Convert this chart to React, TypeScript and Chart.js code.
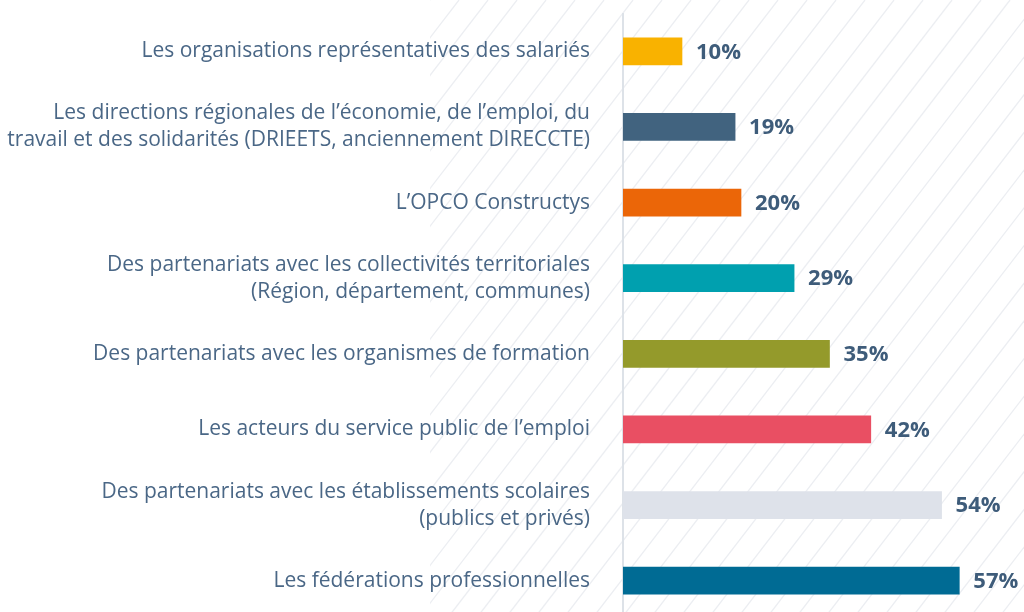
import React, { useEffect, useRef } from "react";
import { Chart, registerables } from "chart.js";

Chart.register(...registerables);

const categories: string[][] = [
  ["Les organisations représentatives des salariés"],
  ["Les directions régionales de l’économie, de l’emploi, du", "travail et des solidarités (DRIEETS, anciennement DIRECCTE)"],
  ["L’OPCO Constructys"],
  ["Des partenariats avec les collectivités territoriales", "(Région, département, communes)"],
  ["Des partenariats avec les organismes de formation"],
  ["Les acteurs du service public de l’emploi"],
  ["Des partenariats avec les établissements scolaires", "(publics et privés)"],
  ["Les fédérations professionnelles"],
];

const values: number[] = [10, 19, 20, 29, 35, 42, 54, 57];

const barColors: string[] = [
  "#f9b200",
  "#41637f",
  "#eb6608",
  "#00a0af",
  "#949a2b",
  "#e94f63",
  "#dee2ea",
  "#006b94",
];

const FONT = "'Open Sans', 'Noto Sans', sans-serif";
const CANVAS_H = 632;

const hatchPlugin = {
  id: "hatch",
  beforeDraw(chart: any) {
    const { ctx, width, height } = chart;
    ctx.save();
    ctx.fillStyle = "#ffffff";
    ctx.fillRect(0, 0, width, height);
    const x0 = 430;
    ctx.beginPath();
    ctx.rect(x0, 0, width - x0, height);
    ctx.clip();
    ctx.strokeStyle = "#eceef2";
    ctx.lineWidth = 1.3;
    const slope = 1.3;
    const spacing = 29;
    const run = height / slope;
    for (let x = x0 - run - spacing; x < width + spacing; x += spacing) {
      ctx.beginPath();
      ctx.moveTo(x, height);
      ctx.lineTo(x + run, 0);
      ctx.stroke();
    }
    ctx.restore();
  },
};

const valueLabelPlugin = {
  id: "valueLabels",
  afterDatasetsDraw(chart: any) {
    const { ctx } = chart;
    const meta = chart.getDatasetMeta(0);
    ctx.save();
    ctx.font = `bold 22px ${FONT}`;
    ctx.fillStyle = "#3e5c7a";
    ctx.textAlign = "left";
    ctx.textBaseline = "middle";
    meta.data.forEach((bar: any, i: number) => {
      ctx.fillText(`${values[i]}%`, bar.x + 14, bar.y + 1);
    });
    ctx.restore();
  },
};

export default function App() {
  const canvasRef = useRef<HTMLCanvasElement | null>(null);

  useEffect(() => {
    document.body.style.margin = "0";
    const canvas = canvasRef.current;
    if (!canvas) return;
    const chart = new Chart(canvas, {
      type: "bar",
      data: {
        labels: categories,
        datasets: [
          {
            data: values,
            backgroundColor: barColors,
            borderWidth: 0,
            barThickness: 27,
          },
        ],
      },
      options: {
        indexAxis: "y",
        animation: false,
        responsive: false,
        maintainAspectRatio: false,
        layout: { padding: { top: 0, right: 47, bottom: 0, left: 0 } },
        plugins: {
          legend: { display: false },
          tooltip: { enabled: false },
        },
        scales: {
          x: {
            display: false,
            min: 0,
            max: 60,
          },
          y: {
            grid: { display: false, drawTicks: true, tickLength: 33 },
            border: { display: true, color: "#dde2e8", width: 2 },
            ticks: {
              padding: 0,
              color: "#4a6786",
              font: { family: FONT, size: 21, lineHeight: 1.286 },
            },
            afterFit(scale: any) {
              scale.width = 623;
            },
          },
        },
      },
      plugins: [hatchPlugin, valueLabelPlugin],
    });
    return () => chart.destroy();
  }, []);

  return (
    <div style={{ position: "fixed", left: 0, top: 0, width: 1024, height: CANVAS_H }}>
      <canvas ref={canvasRef} width={1024} height={CANVAS_H} />
    </div>
  );
}
